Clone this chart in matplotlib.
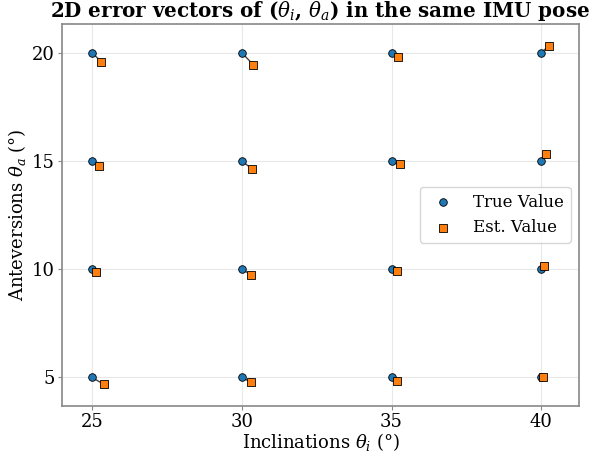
import matplotlib
matplotlib.use("Agg")
import matplotlib.pyplot as plt

plt.rcParams['font.family'] = ['DejaVu Serif']
plt.rcParams['mathtext.fontset'] = 'dejavuserif'

true_incl = [25, 30, 35, 40, 25, 30, 35, 40, 25, 30, 35, 40, 25, 30, 35, 40]
true_ante = [20, 20, 20, 20, 15, 15, 15, 15, 10, 10, 10, 10, 5, 5, 5, 5]
est_incl = [25.31, 30.38, 35.22, 40.26, 25.24, 30.35, 35.27, 40.15,
            25.13, 30.31, 35.19, 40.10, 25.39, 30.31, 35.17, 40.05]
est_ante = [19.59, 19.45, 19.82, 20.32, 14.74, 14.62, 14.85, 15.30,
            9.86, 9.74, 9.90, 10.15, 4.68, 4.77, 4.83, 5.03]
xticks = [25, 30, 35, 40]
yticks = [5, 10, 15, 20]

fig, ax = plt.subplots(figsize=(6.07, 4.54), dpi=100)
for xt, yt, xe, ye in zip(true_incl, true_ante, est_incl, est_ante):
    ax.plot([xt, xe], [yt, ye], color='#444444', lw=1.0, zorder=2)
ax.scatter(true_incl, true_ante, s=30, c='#1f77b4', edgecolors='black',
           linewidths=0.6, marker='o', label='True Value', zorder=3)
ax.scatter(est_incl, est_ante, s=30, c='#ff7f0e', edgecolors='black',
           linewidths=0.6, marker='s', label='Est. Value', zorder=3)
allx = true_incl + est_incl
ally = true_ante + est_ante
ax.set_xlim(min(allx) - 1.0, max(allx) + 1.0)
ax.set_ylim(min(ally) - 1.0, max(ally) + 1.0)
ax.set_xticks(xticks)
ax.set_yticks(yticks)
ax.tick_params(labelsize=13, color='#888888', length=3, pad=2)
ax.grid(True, color='#e8e8e8', lw=0.8)
ax.set_axisbelow(True)
for sp in ax.spines.values():
    sp.set_color('#888888')
    sp.set_linewidth(1.2)
ax.set_xlabel(r'Inclinations $\theta_i$ (°)', fontsize=13, labelpad=0)
ax.set_ylabel(r'Anteversions $\theta_a$ (°)', fontsize=13, labelpad=3)
ax.set_title(r'2D error vectors of ($\theta_i$, $\theta_a$) in the same IMU pose',
             fontsize=14.3, fontweight='bold', pad=5)
ax.legend(loc='center right', fontsize=12)
fig.subplots_adjust(left=0.102, right=0.954, bottom=0.106, top=0.947)
fig.savefig('out.png', dpi=100)
